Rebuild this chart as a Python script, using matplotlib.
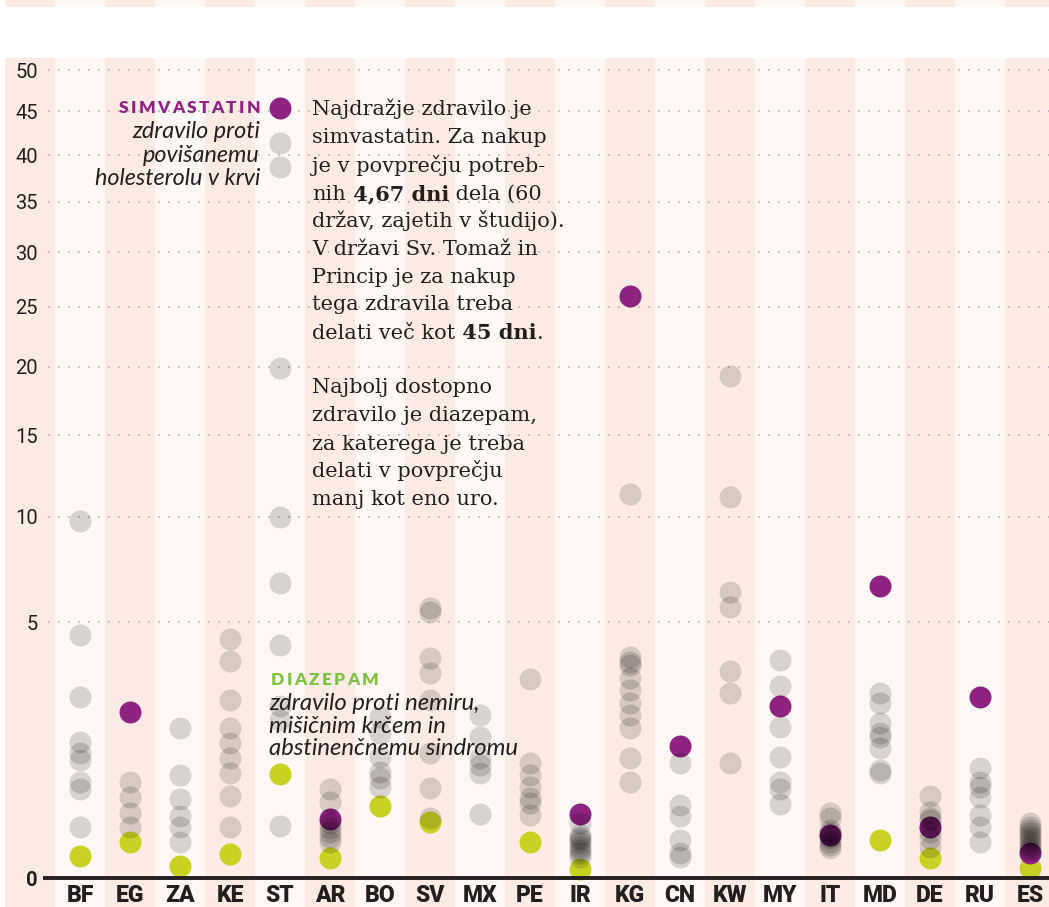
import numpy as np
import matplotlib
matplotlib.use("Agg")
import matplotlib.pyplot as plt
import matplotlib.transforms as mtransforms

W, H, DPI = 1049, 907, 100

# ---------------- data (days of work needed to buy the medicine) ----------------
countries = ['BF', 'EG', 'ZA', 'KE', 'ST', 'AR', 'BO', 'SV', 'MX', 'PE',
             'IR', 'KG', 'CN', 'KW', 'MY', 'IT', 'MD', 'DE', 'RU', 'ES']

simvastatin = [None, 2.11, None, None, 45.4, 0.27, None, None, None, None,
               0.31, 25.9, 1.33, None, 2.26, 0.141, 6.51, 0.20, 2.50, 0.048]

diazepam = [0.037, 0.099, 0.011, 0.044, 0.83, 0.031, 0.40, 0.24, None, 0.099,
            0.0062, None, None, None, None, None, 0.110, 0.031, None, 0.0076]

other_BF = [9.74, 4.51, 2.50, 1.41, 1.19, 1.06, 0.70, 0.61, 0.20]
other_EG = [0.70, 0.50, 0.32, 0.20]
other_ZA = [1.72, 0.81, 0.48, 0.29, 0.20, 0.10]
other_KE = [4.36, 3.60, 2.42, 1.72, 1.39, 1.10, 0.84, 0.51, 0.20]
other_ST = [41.4, 38.7, 19.9, 9.96, 6.65, 4.15, 2.26, 1.91, 0.21]
other_AR = [0.61, 0.44, 0.23, 0.19, 0.16, 0.13, 0.10]
other_BO = [1.98, 1.61, 1.12, 0.86, 0.76, 0.63]
other_SV = [5.57, 5.41, 3.70, 3.21, 2.42, 1.19, 0.62, 0.28]
other_MX = [2.03, 1.52, 1.10, 0.98, 0.84, 0.31]
other_PE = [3.03, 1.01, 0.81, 0.63, 0.49, 0.43, 0.30]
other_IR = [0.23, 0.14, 0.12, 0.11, 0.094, 0.073, 0.06, 0.048, 0.034]
other_KG = [11.3, 3.73, 3.57, 3.47, 3.06, 2.70, 2.34, 2.03, 1.72, 1.10, 0.70]
other_CN = [1.01, 0.41, 0.29, 0.11, 0.048, 0.034]
other_KW = [19.3, 11.1, 6.25, 5.61, 3.27, 2.61, 1.01]
other_MY = [3.63, 2.82, 1.74, 1.12, 0.70, 0.61, 0.42]
other_IT = [0.32, 0.275, 0.18, 0.155, 0.135, 0.12, 0.10, 0.085, 0.07]
other_MD = [2.61, 2.34, 1.84, 1.61, 1.52, 1.29, 0.89, 0.84]
other_DE = [0.51, 0.33, 0.28, 0.26, 0.20, 0.16, 0.12, 0.073]
other_RU = [0.92, 0.70, 0.63, 0.50, 0.30, 0.20, 0.10]
other_ES = [0.23, 0.20, 0.176, 0.155, 0.135, 0.116, 0.10, 0.085, 0.07, 0.06]

other_drugs = [other_BF, other_EG, other_ZA, other_KE, other_ST, other_AR, other_BO,
               other_SV, other_MX, other_PE, other_IR, other_KG, other_CN, other_KW,
               other_MY, other_IT, other_MD, other_DE, other_RU, other_ES]

yticks = [5, 10, 15, 20, 25, 30, 35, 40, 45, 50]

# ---------------- style ----------------
INK = '#231f20'
PURPLE = '#8e2382'
GREEN = '#c8d223'
GREEN_LABEL = '#7dc242'
STRIPE_DARK = '#fcebe4'
STRIPE_LIGHT = '#fdf8f5'
GRID = '#b3b3b3'

fig = plt.figure(figsize=(W / DPI, H / DPI), dpi=DPI)
fig.patch.set_facecolor('white')
ax = fig.add_axes([0, 0, 1, 1])
ax.set_axis_off()


def fwd(v):
    v = np.asarray(v, dtype=float)
    return np.sign(v) * np.sqrt(np.abs(v))


def inv(s):
    s = np.asarray(s, dtype=float)
    return np.sign(s) * s ** 2


ax.set_yscale('function', functions=(fwd, inv))

K = 808 / np.sqrt(50)          # pixels per sqrt-unit
Y0 = 878                        # pixel row (from top) of value 0
ax.set_ylim(float(inv(-(H - Y0) / K)), float(inv(Y0 / K)))
ax.set_xlim(-80 / 50, (W - 80) / 50)

# background stripes
for k in range(21):
    i = k - 1
    col = STRIPE_DARK if k % 2 == 0 else STRIPE_LIGHT
    ax.axvspan(i - 0.5, i + 0.5, ymin=0, ymax=(H - 58) / H, color=col, lw=0, zorder=0)
    ax.axvspan(i - 0.5, i + 0.5, ymin=1 - 7 / H, ymax=1, color=col, lw=0, zorder=0)

TICKFONT = ['Liberation Sans Narrow', 'Roboto', 'DejaVu Sans']

# dotted grid lines
xr = ax.get_xlim()[1]
for v in yticks:
    ax.plot([(48 - 80) / 50, xr], [v, v], color=GRID, lw=1.2, dashes=(1, 5),
            dash_capstyle='butt', zorder=1)
    ax.text((38 - 80) / 50, v, str(v), ha='right', va='center_baseline', fontsize=14.5,
            family=TICKFONT, color=INK, zorder=4)

# baseline
ax.plot([(43 - 80) / 50, xr], [0, 0], color=INK, lw=2.8, solid_capstyle='butt', zorder=5)
ax.text((38 - 80) / 50, 0, '0', ha='right', va='center_baseline', fontsize=14.5,
        fontweight='bold', family=TICKFONT, color=INK)

MS = 22 * 72 / DPI

# coloured dots first, grey (other medicines) on top, translucent
for idx, v in enumerate(diazepam):
    if v is not None:
        ax.plot([idx], [v], 'o', ms=MS, mew=0, color=GREEN, zorder=2)
for idx, v in enumerate(simvastatin):
    if v is not None:
        ax.plot([idx], [v], 'o', ms=MS, mew=0, color=PURPLE, zorder=2)
for idx, vals in enumerate(other_drugs):
    ax.plot([idx] * len(vals), vals, 'o', ms=MS, mew=0, color='black', alpha=0.15,
            zorder=2)

# country labels
trans = mtransforms.blended_transform_factory(ax.transData, ax.transAxes)
for idx, c in enumerate(countries):
    ax.text(idx, (H - 902) / H, c, transform=trans, ha='center',
            va='baseline', fontsize=16.5, fontweight='black',
            family=['Roboto', 'DejaVu Sans'], color=INK, zorder=6)


def fy(y):
    return 1 - y / H


# ---------------- legends ----------------
LABELFONT = ['Lato', 'DejaVu Sans']


def spaced_right(x, y, word, color, size, sp):
    prev = None
    for ch in reversed(word):
        if prev is None:
            prev = ax.annotate(ch, xy=(x / W, fy(y)), xycoords='figure fraction',
                               ha='right', va='baseline', fontsize=size,
                               fontweight='heavy', family=LABELFONT,
                               color=color, zorder=7)
        else:
            prev = ax.annotate(ch, xy=(0, fy(y)), xycoords=(prev, 'figure fraction'),
                               xytext=(-sp, 0), textcoords='offset points',
                               ha='right', va='baseline', fontsize=size,
                               fontweight='heavy', family=LABELFONT,
                               color=color, zorder=7)


def spaced_left(x, y, word, color, size, sp):
    prev = None
    for ch in word:
        if prev is None:
            prev = ax.annotate(ch, xy=(x / W, fy(y)), xycoords='figure fraction',
                               ha='left', va='baseline', fontsize=size,
                               fontweight='heavy', family=LABELFONT,
                               color=color, zorder=7)
        else:
            prev = ax.annotate(ch, xy=(1, fy(y)), xycoords=(prev, 'figure fraction'),
                               xytext=(sp, 0), textcoords='offset points',
                               ha='left', va='baseline', fontsize=size,
                               fontweight='heavy', family=LABELFONT,
                               color=color, zorder=7)


spaced_right(260, 113, 'SIMVASTATIN', PURPLE, 12.5, 1.6)
for yy, line in zip([138, 162, 185], ['zdravilo proti', 'povišanemu', 'holesterolu v krvi']):
    fig.text(260 / W, fy(yy), line, ha='right', va='baseline', fontsize=16.8,
             style='italic', family=LABELFONT, color=INK)

spaced_left(271, 685, 'DIAZEPAM', GREEN_LABEL, 12.5, 1.6)
for yy, line in zip([710, 733, 755], ['zdravilo proti nemiru,', 'mišičnim krčem in',
                                        'abstinenčnemu sindromu']):
    fig.text(269 / W, fy(yy), line, ha='left', va='baseline', fontsize=17.2,
             style='italic', family=LABELFONT, color=INK, zorder=7)

# ---------------- annotation paragraph ----------------
SERIF = ['DejaVu Serif']
SERIF_SIZE = 15


def rich_line(x, y, pieces):
    prev = None
    for txt, bold in pieces:
        w = 'bold' if bold else 'normal'
        if prev is None:
            prev = ax.annotate(txt, xy=(x / W, fy(y)), xycoords='figure fraction',
                               ha='left', va='baseline', fontsize=SERIF_SIZE,
                               fontweight=w, family=SERIF, color=INK, zorder=7)
        else:
            prev = ax.annotate(txt, xy=(1, fy(y)), xycoords=(prev, 'figure fraction'),
                               ha='left', va='baseline', fontsize=SERIF_SIZE,
                               fontweight=w, family=SERIF, color=INK, zorder=7)


para1 = [
    [('Najdražje zdravilo je', False)],
    [('simvastatin. Za nakup', False)],
    [('je v povprečju potreb-', False)],
    [('nih', False), (' 4,67 dni', True), (' dela (60', False)],
    [('držav, zajetih v študijo).', False)],
    [('V državi Sv. Tomaž in', False)],
    [('Princip je za nakup', False)],
    [('tega zdravila treba', False)],
    [('delati več kot', False), (' 45 dni', True), ('.', False)],
]
base1 = [115, 143.3, 171.7, 200, 227, 255, 283, 310.5, 338.5]
for yy, pieces in zip(base1, para1):
    rich_line(312, yy, pieces)

para2 = ['Najbolj dostopno', 'zdravilo je diazepam,', 'za katerega je treba',
         'delati v povprečju', 'manj kot eno uro.']
base2 = [393, 421.5, 449.5, 477, 505]
for yy, line in zip(base2, para2):
    rich_line(312, yy, [(line, False)])

fig.savefig('out.png', dpi=DPI, facecolor='white')
